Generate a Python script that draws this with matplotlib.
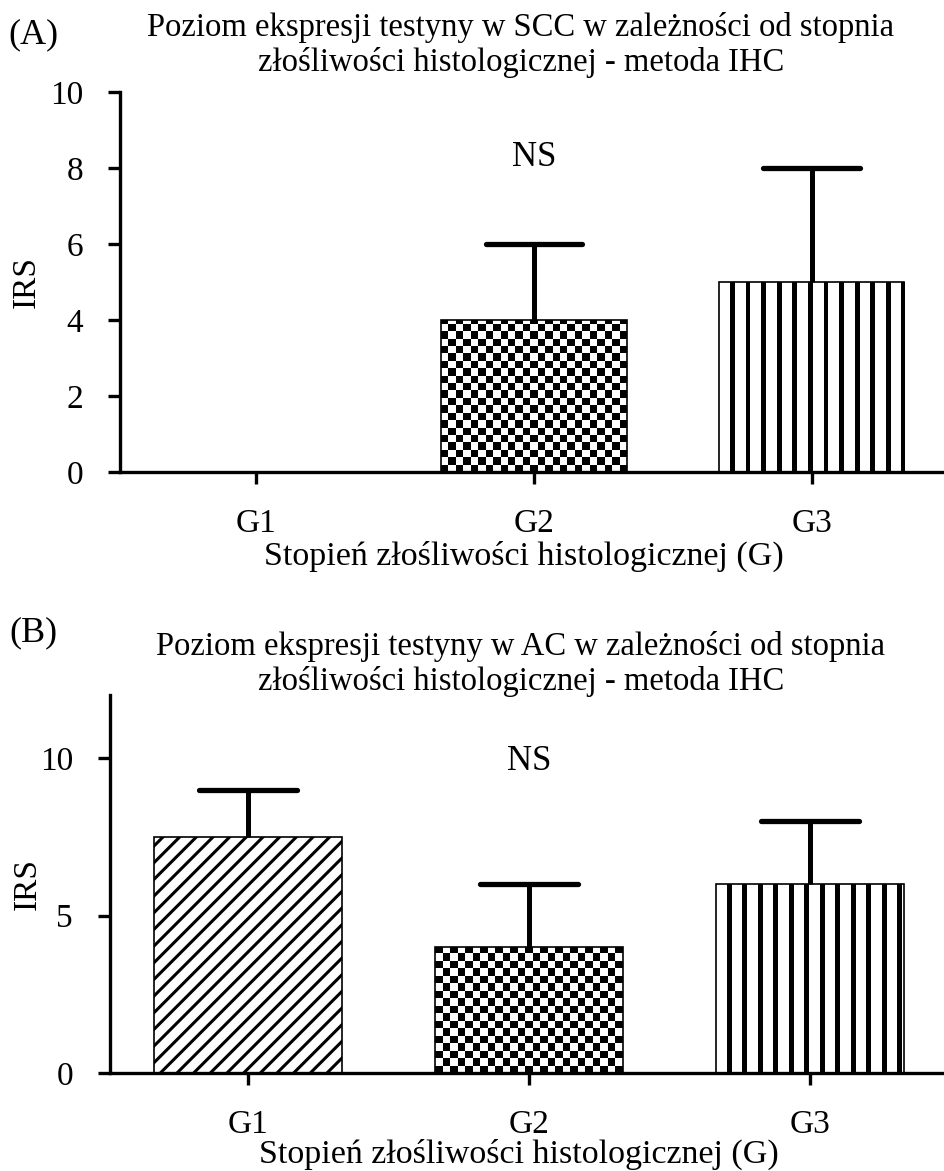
import numpy as np
import matplotlib
matplotlib.use("Agg")
import matplotlib.pyplot as plt

plt.rcParams['font.family'] = ['Liberation Serif', 'DejaVu Serif']
plt.rcParams['hatch.linewidth'] = 2.2

# data
groups = ["G1", "G2", "G3"]
scc_mean = [0, 4, 5]
scc_err_up = [0, 2, 3]
ac_mean = [7.5, 4, 6]
ac_err_up = [1.5, 2, 2]

title_scc = "Poziom ekspresji testyny w SCC w zależności od stopnia\nzłośliwości histologicznej - metoda IHC"
title_ac = "Poziom ekspresji testyny w AC w zależności od stopnia\nzłośliwości histologicznej - metoda IHC"
xlab = "Stopień złośliwości histologicznej (G)"
ylab = "IRS"

W, H = 945, 1171
DPI = 100
FS = 24
LW = 2.4

fig = plt.figure(figsize=(W / DPI, H / DPI), dpi=DPI)


def px_scale(ax):
    x0, x1 = ax.get_xlim()
    y0, y1 = ax.get_ylim()
    bb = ax.get_position()
    return bb.width * W / (x1 - x0), bb.height * H / (y1 - y0)


def checker_fill(ax, patch, cell_px=7.5):
    sx, sy = px_scale(ax)
    x, w, h = patch.get_x(), patch.get_width(), patch.get_height()
    nx = int(round(w * sx / cell_px))
    cw = w / nx
    ch = cw * sx / sy
    ny = int(np.ceil(h / ch))
    img = (np.add.outer(np.arange(ny), np.arange(nx)) % 2).astype(float)
    im = ax.imshow(img, cmap="gray", interpolation="nearest", aspect="auto",
                   extent=(x, x + w, 0, ny * ch), origin="lower", zorder=2)
    im.set_clip_path(patch)


def stripe_fill(ax, patch, period=15.5, width=4.7, offset=11):
    sx, sy = px_scale(ax)
    x, w, h = patch.get_x(), patch.get_width(), patch.get_height()
    n = int(round(w * sx)) * 4
    pos = (np.arange(n) + 0.5) / 4.0
    row = np.where(((pos - offset) % period) < width, 0.0, 1.0)
    img = np.tile(row, (2, 1))
    im = ax.imshow(img, cmap="gray", interpolation="nearest", aspect="auto",
                   extent=(x, x + w, 0, h), origin="lower", zorder=2)
    im.set_clip_path(patch)


def panel(rect, means, errs, ymax, yticks, fills, title, tag, title_y, tag_y, ns_y,
          ylab_x, xlab_y):
    ax = fig.add_axes(rect)
    x = np.arange(len(groups))
    ax.set_xlim(-0.49, 2.48)
    ax.set_ylim(0, ymax)
    bars = ax.bar(x, means, width=0.667, facecolor="none", edgecolor="black",
                  linewidth=1.2, zorder=3)
    for b, f in zip(bars, fills):
        if b.get_height() <= 0:
            continue
        if f == "diag":
            b.set_hatch("//")
        elif f == "checker":
            checker_fill(ax, b)
        elif f == "stripe":
            stripe_fill(ax, b)
    # upper-only error bars with a cap at the top end
    for xi, m, e in zip(x, means, errs):
        if e <= 0:
            continue
        ax.vlines(xi, m, m + e, color="black", linewidth=3.6, zorder=4)
        ax.hlines(m + e, xi - 0.174, xi + 0.174, color="black", linewidth=3.8,
                  capstyle="round", zorder=4)
    ax.set_xlim(-0.49, 2.48)
    ax.set_ylim(0, ymax)
    for s in ["top", "right"]:
        ax.spines[s].set_visible(False)
    for s in ["left", "bottom"]:
        ax.spines[s].set_linewidth(LW)
    ax.set_xticks(x)
    ax.set_xticklabels(groups)
    ax.set_yticks(yticks)
    ax.tick_params(axis="both", direction="out", length=8.6, width=LW,
                   labelsize=FS, pad=18)
    ax.set_xlabel(xlab, fontsize=24.5)
    ax.set_ylabel(ylab, fontsize=FS)
    ax.yaxis.set_label_coords(ylab_x, 0.5)
    ax.xaxis.set_label_coords(0.49, xlab_y)
    ax.text(1, ns_y, "NS", ha="center", va="center", fontsize=25,
            transform=ax.get_xaxis_transform())
    fig.text(521 / W, 1 - title_y / H, title, ha="center", va="center",
             fontsize=23.5, linespacing=1.2)
    fig.text(33 / W, 1 - tag_y / H, tag, ha="center", va="center", fontsize=26)
    ax.patch.set_visible(False)
    return ax


axA = panel([120 / W, 1 - 472 / H, (W - 120) / W, 380 / H],
            scc_mean, scc_err_up, 10, [0, 2, 4, 6, 8, 10],
            ["diag", "checker", "stripe"], title_scc, "(A)",
            45, 35, 0.828, -0.0945, -0.182)
axB = panel([110 / W, 1 - 1073 / H, (W - 110) / W, 378 / H],
            ac_mean, ac_err_up, 12, [0, 5, 10],
            ["diag", "checker", "stripe"], title_ac, "(B)",
            664, 633, 0.824, -0.081, -0.174)

fig.savefig("out.png", dpi=DPI)
